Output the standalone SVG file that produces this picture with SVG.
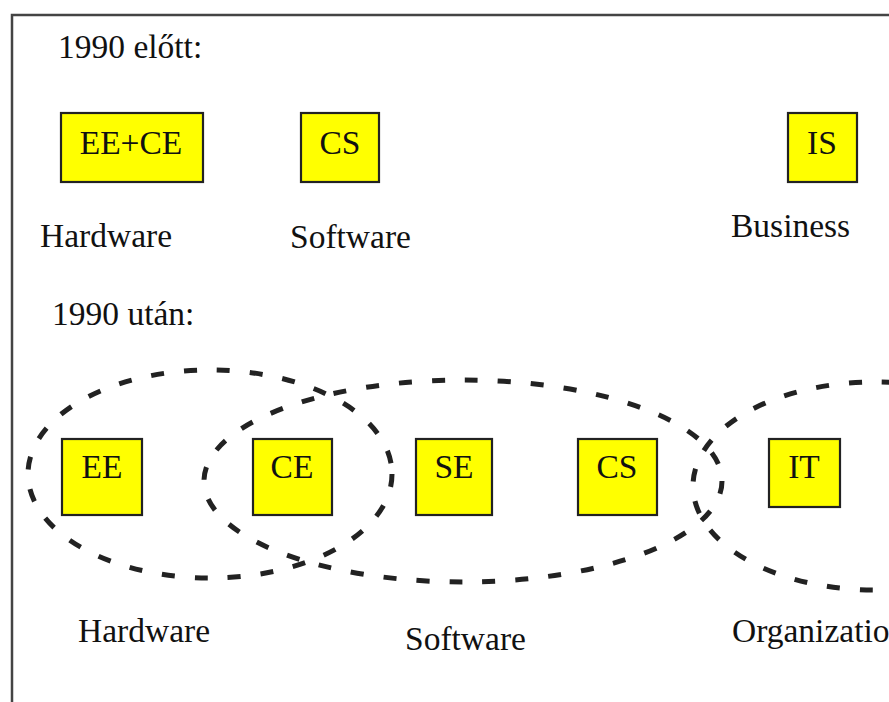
<svg xmlns="http://www.w3.org/2000/svg" width="889" height="702" viewBox="0 0 889 702">
<style>
.t{font-family:"Liberation Serif","Times New Roman",serif;font-size:33.5px;fill:#111}
.m{text-anchor:middle}
.box{fill:#ffff00;stroke:#222;stroke-width:2.2}
.dash{fill:none;stroke:#222;stroke-width:5;stroke-dasharray:13 20}
</style>
<rect width="889" height="702" fill="#fff"/>
<rect x="12" y="15" width="900" height="720" fill="none" stroke="#444" stroke-width="2.5"/>
<text class="t" x="58" y="58">1990 előtt:</text>
<text class="t" x="52" y="325">1990 után:</text>
<g id="clusters">
<ellipse class="dash" cx="210" cy="474" rx="182" ry="104"/>
<ellipse class="dash" cx="463" cy="481" rx="259" ry="101"/>
<ellipse class="dash" cx="875" cy="486" rx="182" ry="104"/>
</g>
<g id="old-eece"><rect class="box" x="61" y="113" width="142" height="69"/><text class="t m" x="131" y="154">EE+CE</text></g>
<g id="old-cs"><rect class="box" x="301" y="113" width="78" height="69"/><text class="t m" x="340" y="154">CS</text></g>
<g id="old-is"><rect class="box" x="788" y="113" width="69" height="69"/><text class="t m" x="822" y="154">IS</text></g>
<g id="new-ee"><rect class="box" x="62" y="439" width="80" height="76"/><text class="t m" x="102" y="478">EE</text></g>
<g id="new-ce"><rect class="box" x="253" y="439" width="79" height="76"/><text class="t m" x="292" y="478">CE</text></g>
<g id="new-se"><rect class="box" x="416" y="439" width="76" height="76"/><text class="t m" x="454" y="478">SE</text></g>
<g id="new-cs"><rect class="box" x="578" y="439" width="79" height="76"/><text class="t m" x="617" y="478">CS</text></g>
<g id="new-it"><rect class="box" x="769" y="439" width="71" height="68"/><text class="t m" x="804" y="478">IT</text></g>
<g id="labels">
<text class="t" x="40" y="247">Hardware</text>
<text class="t" x="290" y="248">Software</text>
<text class="t" x="731" y="237">Business</text>
<text class="t" x="78" y="642">Hardware</text>
<text class="t" x="405" y="650">Software</text>
<text class="t" x="732" y="642">Organization</text>
</g>
</svg>
